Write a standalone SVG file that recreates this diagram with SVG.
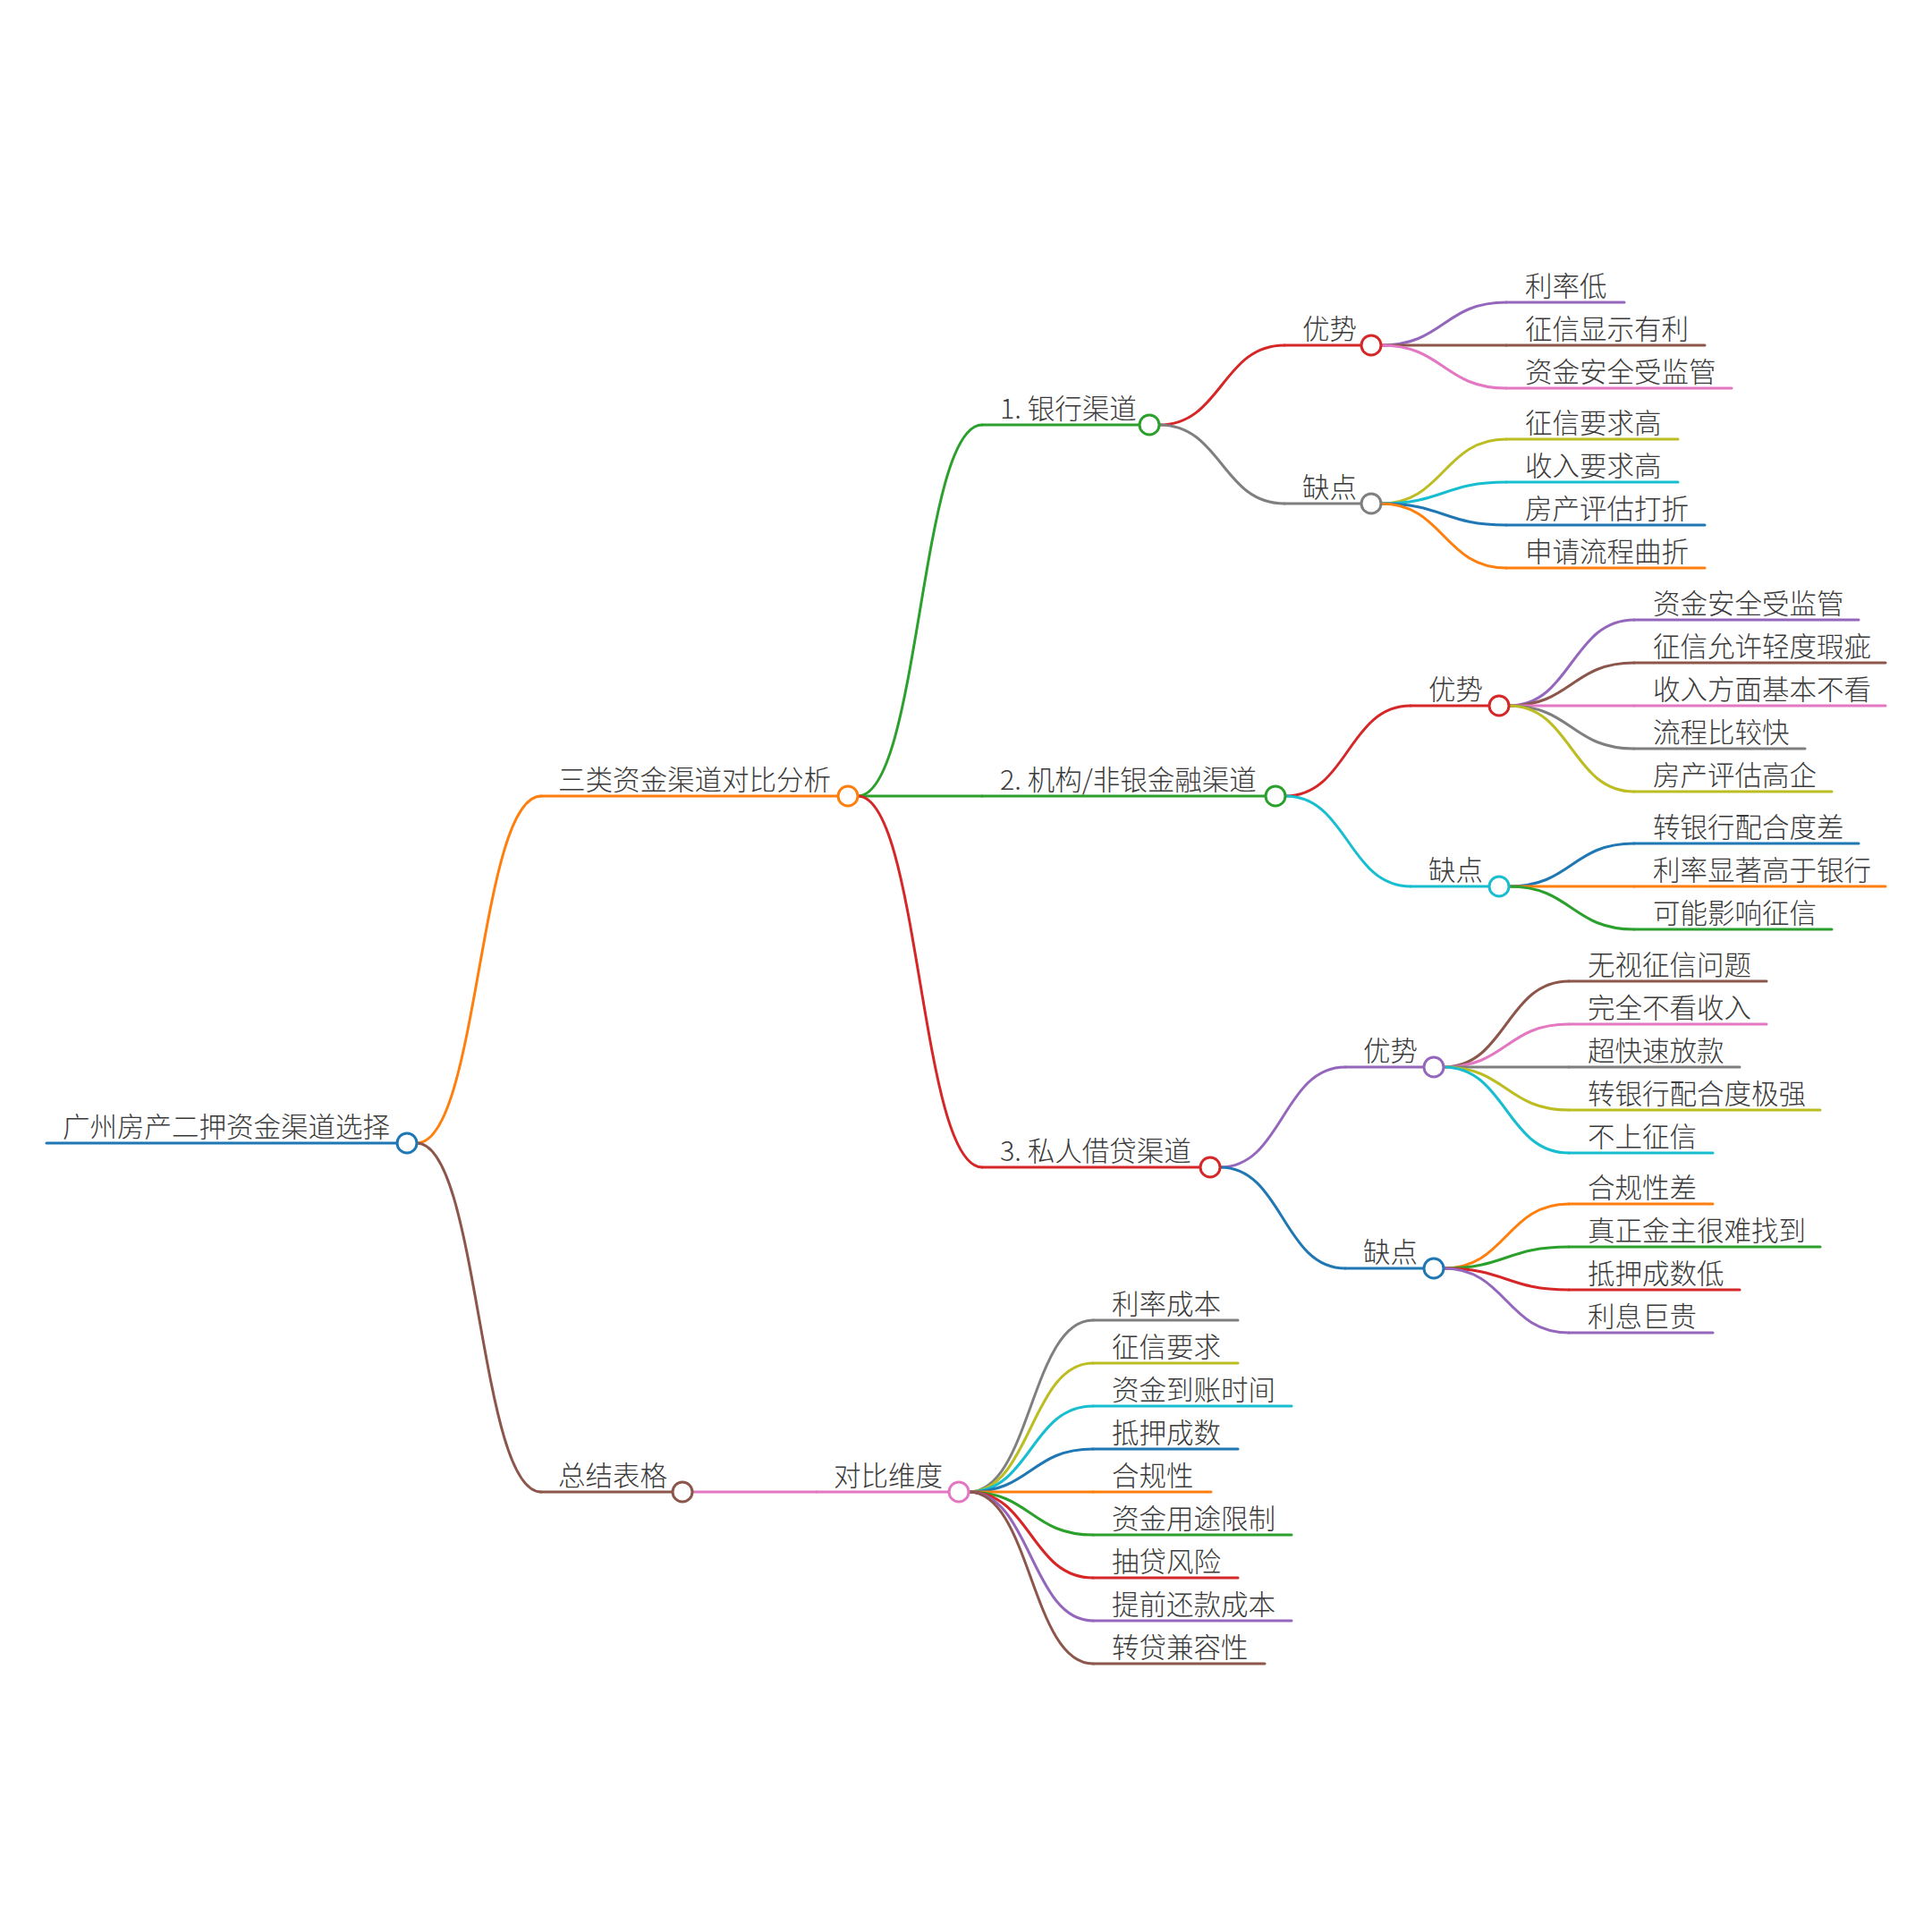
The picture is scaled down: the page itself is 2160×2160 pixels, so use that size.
<svg xmlns="http://www.w3.org/2000/svg" width="2160" height="2160" viewBox="0 0 2160 2160">
<style>
text{font-family:"Noto Sans CJK SC","Noto Sans",sans-serif;font-size:30.5px;font-weight:300;fill:#3a3a3a}
path,line{fill:none;stroke-width:3;stroke-linecap:round}
circle{fill:#fff;stroke-width:3}
.c0{stroke:#1f77b4}.c1{stroke:#ff7f0e}.c2{stroke:#2ca02c}.c3{stroke:#d62728}.c4{stroke:#9467bd}
.c5{stroke:#8c564b}.c6{stroke:#e377c2}.c7{stroke:#7f7f7f}.c8{stroke:#bcbd22}.c9{stroke:#17becf}
</style>
<rect width="2160" height="2160" fill="#fff"/>
<g id="connectors">
<path class="c1" d="M466,1278 C535.5,1278 535.5,890 605,890"/>
<path class="c5" d="M466,1278 C535.5,1278 535.5,1668 605,1668"/>
<path class="c6" d="M774,1668 L913,1668"/>
<path class="c2" d="M959,890 C1028.5,890 1028.5,475 1098,475"/>
<path class="c2" d="M959,890 L1098,890"/>
<path class="c3" d="M959,890 C1028.5,890 1028.5,1305 1098,1305"/>
<path class="c3" d="M1296,475 C1366,475 1366,386 1436,386"/>
<path class="c7" d="M1296,475 C1366,475 1366,563 1436,563"/>
<path class="c3" d="M1437,890 C1507,890 1507,789 1577,789"/>
<path class="c9" d="M1437,890 C1507,890 1507,991 1577,991"/>
<path class="c4" d="M1364,1305 C1434,1305 1434,1193 1504,1193"/>
<path class="c0" d="M1364,1305 C1434,1305 1434,1418 1504,1418"/>
<path class="c4" d="M1544,386 C1614,386 1614,338 1684,338"/>
<path class="c5" d="M1544,386 L1684,386"/>
<path class="c6" d="M1544,386 C1614,386 1614,434 1684,434"/>
<path class="c8" d="M1544,563 C1614,563 1614,491 1684,491"/>
<path class="c9" d="M1544,563 C1614,563 1614,539 1684,539"/>
<path class="c0" d="M1544,563 C1614,563 1614,587 1684,587"/>
<path class="c1" d="M1544,563 C1614,563 1614,635 1684,635"/>
<path class="c4" d="M1687,789 C1757,789 1757,693 1827,693"/>
<path class="c5" d="M1687,789 C1757,789 1757,741 1827,741"/>
<path class="c6" d="M1687,789 L1827,789"/>
<path class="c7" d="M1687,789 C1757,789 1757,837 1827,837"/>
<path class="c8" d="M1687,789 C1757,789 1757,885 1827,885"/>
<path class="c0" d="M1687,991 C1757,991 1757,943 1827,943"/>
<path class="c1" d="M1687,991 L1827,991"/>
<path class="c2" d="M1687,991 C1757,991 1757,1039 1827,1039"/>
<path class="c5" d="M1614,1193 C1684,1193 1684,1097 1754,1097"/>
<path class="c6" d="M1614,1193 C1684,1193 1684,1145 1754,1145"/>
<path class="c7" d="M1614,1193 L1754,1193"/>
<path class="c8" d="M1614,1193 C1684,1193 1684,1241 1754,1241"/>
<path class="c9" d="M1614,1193 C1684,1193 1684,1289 1754,1289"/>
<path class="c1" d="M1614,1418 C1684,1418 1684,1346 1754,1346"/>
<path class="c2" d="M1614,1418 C1684,1418 1684,1394 1754,1394"/>
<path class="c3" d="M1614,1418 C1684,1418 1684,1442 1754,1442"/>
<path class="c4" d="M1614,1418 C1684,1418 1684,1490 1754,1490"/>
<path class="c7" d="M1083,1668 C1152.5,1668 1152.5,1476 1222,1476"/>
<path class="c8" d="M1083,1668 C1152.5,1668 1152.5,1524 1222,1524"/>
<path class="c9" d="M1083,1668 C1152.5,1668 1152.5,1572 1222,1572"/>
<path class="c0" d="M1083,1668 C1152.5,1668 1152.5,1620 1222,1620"/>
<path class="c1" d="M1083,1668 L1222,1668"/>
<path class="c2" d="M1083,1668 C1152.5,1668 1152.5,1716 1222,1716"/>
<path class="c3" d="M1083,1668 C1152.5,1668 1152.5,1764 1222,1764"/>
<path class="c4" d="M1083,1668 C1152.5,1668 1152.5,1812 1222,1812"/>
<path class="c5" d="M1083,1668 C1152.5,1668 1152.5,1860 1222,1860"/>
</g>
<g id="n-root"><line class="c0" x1="52" y1="1278" x2="444" y2="1278"/><circle class="c0" cx="455" cy="1278" r="11"/><text x="70" y="1271">广州房产二押资金渠道选择</text></g>
<g id="n-sanlei"><line class="c1" x1="605" y1="890" x2="937" y2="890"/><circle class="c1" cx="948" cy="890" r="11"/><text x="624" y="883">三类资金渠道对比分析</text></g>
<g id="n-zongjie"><line class="c5" x1="605" y1="1668" x2="752" y2="1668"/><circle class="c5" cx="763" cy="1668" r="11"/><text x="624" y="1661">总结表格</text></g>
<g id="n-duibi"><line class="c6" x1="913" y1="1668" x2="1061" y2="1668"/><circle class="c6" cx="1072" cy="1668" r="11"/><text x="932" y="1661">对比维度</text></g>
<g id="n-bank"><line class="c2" x1="1098" y1="475" x2="1274" y2="475"/><circle class="c2" cx="1285" cy="475" r="11"/><text x="1118" y="468">1. 银行渠道</text></g>
<g id="n-inst"><line class="c2" x1="1098" y1="890" x2="1415" y2="890"/><circle class="c2" cx="1426" cy="890" r="11"/><text x="1118" y="883">2. 机构/非银金融渠道</text></g>
<g id="n-private"><line class="c3" x1="1098" y1="1305" x2="1342" y2="1305"/><circle class="c3" cx="1353" cy="1305" r="11"/><text x="1118" y="1298">3. 私人借贷渠道</text></g>
<g id="n-bank-pro"><line class="c3" x1="1436" y1="386" x2="1522" y2="386"/><circle class="c3" cx="1533" cy="386" r="11"/><text x="1456" y="379">优势</text></g>
<g id="n-bank-con"><line class="c7" x1="1436" y1="563" x2="1522" y2="563"/><circle class="c7" cx="1533" cy="563" r="11"/><text x="1456" y="556">缺点</text></g>
<g id="n-inst-pro"><line class="c3" x1="1577" y1="789" x2="1665" y2="789"/><circle class="c3" cx="1676" cy="789" r="11"/><text x="1597" y="782">优势</text></g>
<g id="n-inst-con"><line class="c9" x1="1577" y1="991" x2="1665" y2="991"/><circle class="c9" cx="1676" cy="991" r="11"/><text x="1597" y="984">缺点</text></g>
<g id="n-priv-pro"><line class="c4" x1="1504" y1="1193" x2="1592" y2="1193"/><circle class="c4" cx="1603" cy="1193" r="11"/><text x="1524" y="1186">优势</text></g>
<g id="n-priv-con"><line class="c0" x1="1504" y1="1418" x2="1592" y2="1418"/><circle class="c0" cx="1603" cy="1418" r="11"/><text x="1524" y="1411">缺点</text></g>
<g id="l-b1"><line class="c4" x1="1684" y1="338" x2="1816" y2="338"/><text x="1705" y="331">利率低</text></g>
<g id="l-b2"><line class="c5" x1="1684" y1="386" x2="1906" y2="386"/><text x="1705" y="379">征信显示有利</text></g>
<g id="l-b3"><line class="c6" x1="1684" y1="434" x2="1936" y2="434"/><text x="1705" y="427">资金安全受监管</text></g>
<g id="l-b4"><line class="c8" x1="1684" y1="491" x2="1876" y2="491"/><text x="1705" y="484">征信要求高</text></g>
<g id="l-b5"><line class="c9" x1="1684" y1="539" x2="1876" y2="539"/><text x="1705" y="532">收入要求高</text></g>
<g id="l-b6"><line class="c0" x1="1684" y1="587" x2="1906" y2="587"/><text x="1705" y="580">房产评估打折</text></g>
<g id="l-b7"><line class="c1" x1="1684" y1="635" x2="1906" y2="635"/><text x="1705" y="628">申请流程曲折</text></g>
<g id="l-i1"><line class="c4" x1="1827" y1="693" x2="2078" y2="693"/><text x="1848" y="686">资金安全受监管</text></g>
<g id="l-i2"><line class="c5" x1="1827" y1="741" x2="2108" y2="741"/><text x="1848" y="734">征信允许轻度瑕疵</text></g>
<g id="l-i3"><line class="c6" x1="1827" y1="789" x2="2108" y2="789"/><text x="1848" y="782">收入方面基本不看</text></g>
<g id="l-i4"><line class="c7" x1="1827" y1="837" x2="2018" y2="837"/><text x="1848" y="830">流程比较快</text></g>
<g id="l-i5"><line class="c8" x1="1827" y1="885" x2="2048" y2="885"/><text x="1848" y="878">房产评估高企</text></g>
<g id="l-i6"><line class="c0" x1="1827" y1="943" x2="2078" y2="943"/><text x="1848" y="936">转银行配合度差</text></g>
<g id="l-i7"><line class="c1" x1="1827" y1="991" x2="2108" y2="991"/><text x="1848" y="984">利率显著高于银行</text></g>
<g id="l-i8"><line class="c2" x1="1827" y1="1039" x2="2048" y2="1039"/><text x="1848" y="1032">可能影响征信</text></g>
<g id="l-p1"><line class="c5" x1="1754" y1="1097" x2="1975" y2="1097"/><text x="1775" y="1090">无视征信问题</text></g>
<g id="l-p2"><line class="c6" x1="1754" y1="1145" x2="1975" y2="1145"/><text x="1775" y="1138">完全不看收入</text></g>
<g id="l-p3"><line class="c7" x1="1754" y1="1193" x2="1945" y2="1193"/><text x="1775" y="1186">超快速放款</text></g>
<g id="l-p4"><line class="c8" x1="1754" y1="1241" x2="2035" y2="1241"/><text x="1775" y="1234">转银行配合度极强</text></g>
<g id="l-p5"><line class="c9" x1="1754" y1="1289" x2="1915" y2="1289"/><text x="1775" y="1282">不上征信</text></g>
<g id="l-p6"><line class="c1" x1="1754" y1="1346" x2="1915" y2="1346"/><text x="1775" y="1339">合规性差</text></g>
<g id="l-p7"><line class="c2" x1="1754" y1="1394" x2="2035" y2="1394"/><text x="1775" y="1387">真正金主很难找到</text></g>
<g id="l-p8"><line class="c3" x1="1754" y1="1442" x2="1945" y2="1442"/><text x="1775" y="1435">抵押成数低</text></g>
<g id="l-p9"><line class="c4" x1="1754" y1="1490" x2="1915" y2="1490"/><text x="1775" y="1483">利息巨贵</text></g>
<g id="l-d1"><line class="c7" x1="1222" y1="1476" x2="1384" y2="1476"/><text x="1243" y="1469">利率成本</text></g>
<g id="l-d2"><line class="c8" x1="1222" y1="1524" x2="1384" y2="1524"/><text x="1243" y="1517">征信要求</text></g>
<g id="l-d3"><line class="c9" x1="1222" y1="1572" x2="1444" y2="1572"/><text x="1243" y="1565">资金到账时间</text></g>
<g id="l-d4"><line class="c0" x1="1222" y1="1620" x2="1384" y2="1620"/><text x="1243" y="1613">抵押成数</text></g>
<g id="l-d5"><line class="c1" x1="1222" y1="1668" x2="1354" y2="1668"/><text x="1243" y="1661">合规性</text></g>
<g id="l-d6"><line class="c2" x1="1222" y1="1716" x2="1444" y2="1716"/><text x="1243" y="1709">资金用途限制</text></g>
<g id="l-d7"><line class="c3" x1="1222" y1="1764" x2="1384" y2="1764"/><text x="1243" y="1757">抽贷风险</text></g>
<g id="l-d8"><line class="c4" x1="1222" y1="1812" x2="1444" y2="1812"/><text x="1243" y="1805">提前还款成本</text></g>
<g id="l-d9"><line class="c5" x1="1222" y1="1860" x2="1414" y2="1860"/><text x="1243" y="1853">转贷兼容性</text></g>
</svg>
